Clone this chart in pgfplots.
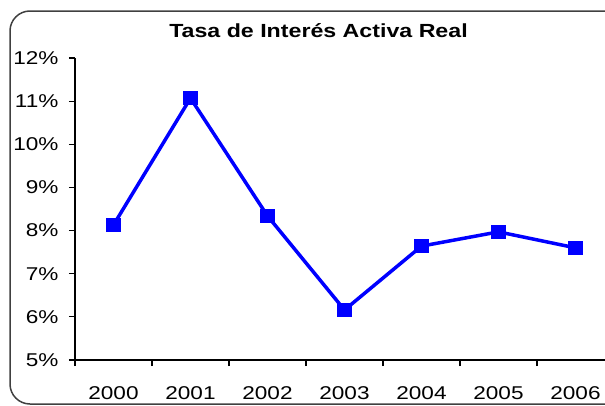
\documentclass[border=0pt]{standalone}
\usepackage{pgfplots}
\pgfplotsset{compat=1.18}
\usepackage{fontspec}
\setmainfont{Liberation Sans}[FakeStretch=1.22]
\begin{document}
\begin{tikzpicture}
\useasboundingbox (0,0) rectangle (605bp,-406bp);
\draw[rounded corners=20bp, line width=1.5bp, black!75] (10bp,-11bp) rectangle (625bp,-404bp);
\node[anchor=base, font=\fontsize{19bp}{22bp}\selectfont\bfseries, inner sep=0pt] at (318.5bp,-37bp) {Tasa de Interés Activa Real};
\begin{axis}[
  at={(75bp,-360bp)}, anchor=south west,
  scale only axis, width=539bp, height=302bp,
  axis x line*=bottom, axis y line*=left,
  axis line style={line width=1.2bp, black},
  xmin=-0.5, xmax=6.5, ymin=5, ymax=12,
  xtick={0,...,6},
  xticklabels={2000,2001,2002,2003,2004,2005,2006},
  major x tick style={draw=none},
  minor xtick={-0.5,0.5,...,6.5},
  minor x tick style={line width=1.2bp, black},
  ytick={5,...,12},
  yticklabel={\pgfmathprintnumber{\tick}\%},
  y tick style={line width=1.2bp, black},
  tick align=outside,
  major tick length=6bp, minor tick length=6bp,
  /pgf/number format/assume math mode=true,
  tick label style={font=\fontsize{18.5bp}{20bp}\selectfont},
  y tick label style={xshift=-7bp},
  x tick label style={yshift=-17bp},
  clip=false,
]
\addplot[blue, line width=3.5bp, mark=square*, mark size=5.5bp, mark options={solid, fill=blue}]
 coordinates {(0,8.13) (1,11.07) (2,8.34) (3,6.16) (4,7.64) (5,7.97) (6,7.60)};
\end{axis}
\end{tikzpicture}
\end{document}
